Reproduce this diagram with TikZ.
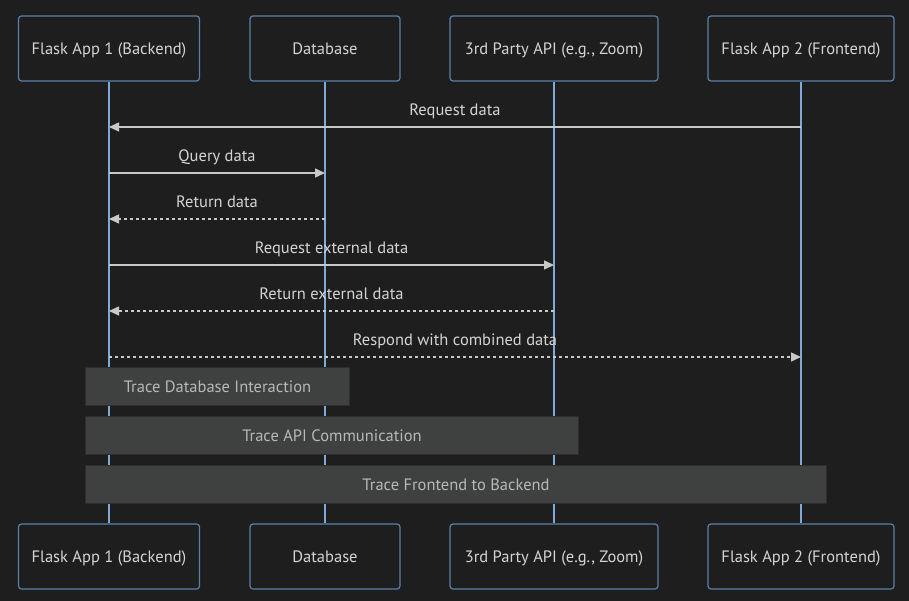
\documentclass[tikz,border=0pt]{standalone}
\usepackage{fontspec}
\setmainfont{PT Sans}
\usetikzlibrary{arrows.meta}
\definecolor{bg}{HTML}{1E1E1E}
\definecolor{actorborder}{HTML}{5A80A8}
\definecolor{lifeline}{HTML}{7DAAD6}
\definecolor{msg}{HTML}{C8C8C8}
\definecolor{txt}{HTML}{D4D4D4}
\definecolor{notefill}{HTML}{3F4040}
\definecolor{noteborder}{HTML}{2E2E2E}
\definecolor{notetxt}{HTML}{B8B8B8}
\tikzset{
  basefont/.style={font=\fontsize{16.5}{19}\selectfont, text height=11.5pt, text depth=0pt},
  actor/.style={basefont, draw=actorborder, line width=1.2pt, fill=bg, rounded corners=3pt, minimum height=65pt, text=txt, inner sep=0pt},
  life/.style={draw=lifeline, line width=1.2pt},
  solidmsg/.style={draw=msg, line width=1.4pt, -{Triangle[length=10pt,width=9pt]}},
  dashmsg/.style={draw=msg, line width=1.4pt, dash pattern=on 3pt off 3pt, -{Triangle[length=10pt,width=9pt]}},
  msglabel/.style={basefont, text=txt, inner sep=0pt},
  note/.style={basefont, draw=noteborder, line width=1pt, fill=notefill, text=notetxt, minimum height=38pt, inner sep=0pt, anchor=north west},
}
\begin{document}
\begin{tikzpicture}[x=1pt,y=-1pt]
\fill[bg] (0,0) rectangle (909,601);
\useasboundingbox (0,0) rectangle (909,601);
% top actors
\node[actor, minimum width=181pt] (a1) at (109,48.5) {Flask App 1 (Backend)};
\node[actor, minimum width=150pt] (a2) at (325,48.5) {Database};
\node[actor, minimum width=208pt] (a3) at (554,48.5) {3rd Party API (e.g., Zoom)};
\node[actor, minimum width=186pt] (a4) at (801,48.5) {Flask App 2 (Frontend)};
% bottom actors
\node[actor, minimum width=181pt] (b1) at (109,556.5) {Flask App 1 (Backend)};
\node[actor, minimum width=150pt] (b2) at (325,556.5) {Database};
\node[actor, minimum width=208pt] (b3) at (554,556.5) {3rd Party API (e.g., Zoom)};
\node[actor, minimum width=186pt] (b4) at (801,556.5) {Flask App 2 (Frontend)};
% lifelines
\draw[life] (a1.south) -- (b1.north);
\draw[life] (a2.south) -- (b2.north);
\draw[life] (a3.south) -- (b3.north);
\draw[life] (a4.south) -- (b4.north);
% message anchors
\coordinate (m1s) at (801,127); \coordinate (m1e) at (109,127);
\coordinate (m2s) at (109,173); \coordinate (m2e) at (325,173);
\coordinate (m3s) at (325,219); \coordinate (m3e) at (109,219);
\coordinate (m4s) at (109,265); \coordinate (m4e) at (554,265);
\coordinate (m5s) at (554,311); \coordinate (m5e) at (109,311);
\coordinate (m6s) at (109,357); \coordinate (m6e) at (801,357);
\draw[solidmsg] (m1s) -- (m1e);
\draw[solidmsg] (m2s) -- (m2e);
\draw[dashmsg] (m3s) -- (m3e);
\draw[solidmsg] (m4s) -- (m4e);
\draw[dashmsg] (m5s) -- (m5e);
\draw[dashmsg] (m6s) -- (m6e);
\node[msglabel] (l1) at (455,110) {Request data};
\node[msglabel] (l2) at (217,156) {Query data};
\node[msglabel] (l3) at (217,202) {Return data};
\node[msglabel] (l4) at (331.5,248) {Request external data};
\node[msglabel] (l5) at (331.5,294) {Return external data};
\node[msglabel] (l6) at (455,340) {Respond with combined data};
% notes
\node[note, minimum width=264pt] (n1) at (85,367) {Trace Database Interaction};
\node[note, minimum width=493pt] (n2) at (85,416) {Trace API Communication};
\node[note, minimum width=741pt] (n3) at (85,465) {Trace Frontend to Backend};
\end{tikzpicture}
\end{document}
